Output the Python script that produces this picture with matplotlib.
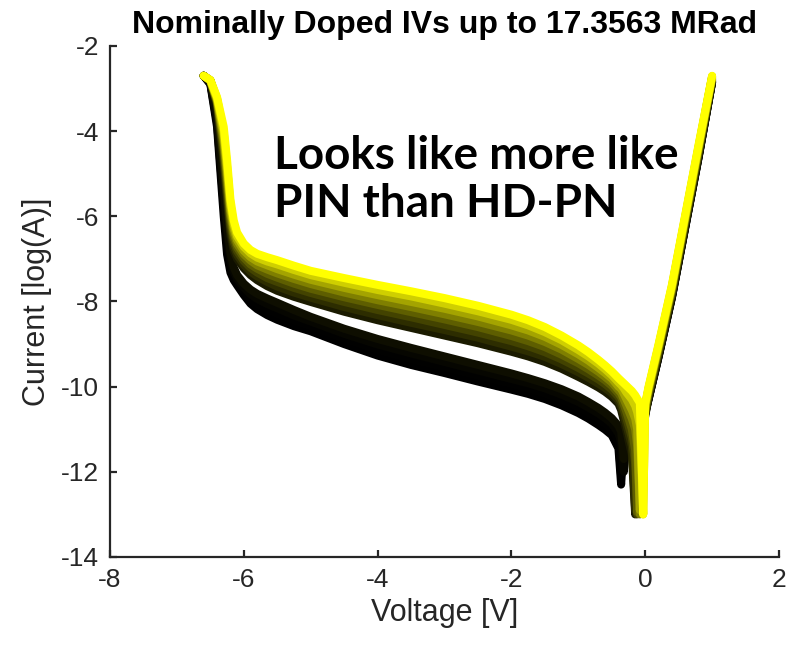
import matplotlib
matplotlib.use("Agg")
import matplotlib.pyplot as plt
from matplotlib.colors import LinearSegmentedColormap
import numpy as np

plt.rcParams["font.family"] = ["Liberation Sans", "DejaVu Sans"]
plt.rcParams["axes.unicode_minus"] = False

# Bias points shared by every sweep (V)
voltage = [
    -6.6, -6.5, -6.4, -6.3, -6.25, -6.2, -6.15, -6.1, -6.0, -5.9, -5.8, -5.65,
    -5.5, -5.25, -5.0, -4.5, -4.0, -3.5, -3.0, -2.5, -2.0, -1.75, -1.5, -1.25,
    -1.0, -0.85, -0.7, -0.6, -0.5, -0.4, -0.36, -0.32, -0.28, -0.2, -0.15,
    -0.12, -0.08, -0.03, 0.0, 0.05, 0.2, 0.4, 0.6, 0.8, 1.0,
]

# log10(|I|) per bias point, one column per dose step (lowest dose first)
log_current = [
    [-2.70, -2.70, -2.70, -2.70, -2.70, -2.70, -2.70, -2.70, -2.70, -2.70, -2.70, -2.70],
    [-2.90, -2.88, -2.87, -2.85, -2.82, -2.82, -2.82, -2.81, -2.81, -2.81, -2.80, -2.80],
    [-3.90, -3.80, -3.70, -3.60, -3.40, -3.37, -3.34, -3.31, -3.29, -3.26, -3.23, -3.20],
    [-6.00, -5.77, -5.53, -5.30, -4.80, -4.67, -4.54, -4.41, -4.29, -4.16, -4.03, -3.90],
    [-6.90, -6.67, -6.43, -6.20, -5.70, -5.55, -5.41, -5.26, -5.12, -4.97, -4.83, -4.68],
    [-7.32, -7.16, -7.01, -6.85, -6.45, -6.33, -6.21, -6.09, -5.96, -5.84, -5.72, -5.60],
    [-7.50, -7.40, -7.30, -7.20, -6.82, -6.72, -6.61, -6.51, -6.41, -6.31, -6.20, -6.10],
    [-7.62, -7.54, -7.46, -7.38, -7.00, -6.91, -6.82, -6.73, -6.65, -6.56, -6.47, -6.38],
    [-7.85, -7.76, -7.67, -7.58, -7.22, -7.14, -7.05, -6.97, -6.89, -6.81, -6.72, -6.64],
    [-8.05, -7.94, -7.83, -7.72, -7.38, -7.30, -7.21, -7.13, -7.04, -6.96, -6.87, -6.79],
    [-8.18, -8.06, -7.94, -7.82, -7.50, -7.41, -7.32, -7.23, -7.15, -7.06, -6.97, -6.88],
    [-8.32, -8.19, -8.06, -7.93, -7.64, -7.54, -7.45, -7.35, -7.25, -7.15, -7.06, -6.96],
    [-8.43, -8.30, -8.16, -8.03, -7.75, -7.65, -7.54, -7.44, -7.34, -7.24, -7.13, -7.03],
    [-8.58, -8.45, -8.33, -8.20, -7.89, -7.79, -7.68, -7.58, -7.47, -7.37, -7.26, -7.16],
    [-8.70, -8.59, -8.47, -8.36, -8.01, -7.91, -7.80, -7.70, -7.59, -7.49, -7.38, -7.28],
    [-9.00, -8.88, -8.76, -8.64, -8.24, -8.13, -8.01, -7.90, -7.79, -7.68, -7.56, -7.45],
    [-9.27, -9.14, -9.01, -8.88, -8.44, -8.32, -8.20, -8.08, -7.97, -7.85, -7.73, -7.61],
    [-9.49, -9.36, -9.22, -9.09, -8.62, -8.50, -8.37, -8.25, -8.13, -8.01, -7.88, -7.76],
    [-9.68, -9.55, -9.42, -9.29, -8.80, -8.67, -8.55, -8.42, -8.30, -8.17, -8.05, -7.92],
    [-9.88, -9.75, -9.62, -9.49, -8.98, -8.85, -8.73, -8.60, -8.48, -8.35, -8.23, -8.10],
    [-10.07, -9.94, -9.82, -9.69, -9.18, -9.06, -8.93, -8.81, -8.68, -8.56, -8.43, -8.31],
    [-10.17, -10.05, -9.92, -9.80, -9.29, -9.17, -9.05, -8.93, -8.80, -8.68, -8.56, -8.44],
    [-10.29, -10.17, -10.04, -9.92, -9.42, -9.30, -9.19, -9.07, -8.95, -8.83, -8.72, -8.60],
    [-10.44, -10.31, -10.19, -10.06, -9.58, -9.47, -9.36, -9.25, -9.13, -9.02, -8.91, -8.80],
    [-10.62, -10.49, -10.36, -10.23, -9.77, -9.66, -9.56, -9.45, -9.35, -9.24, -9.14, -9.03],
    [-10.75, -10.62, -10.49, -10.36, -9.89, -9.79, -9.69, -9.59, -9.49, -9.39, -9.29, -9.19],
    [-10.90, -10.77, -10.63, -10.50, -10.02, -9.93, -9.83, -9.74, -9.65, -9.56, -9.46, -9.37],
    [-11.01, -10.88, -10.74, -10.61, -10.12, -10.03, -9.94, -9.85, -9.77, -9.68, -9.59, -9.50],
    [-11.14, -11.01, -10.87, -10.74, -10.24, -10.15, -10.07, -9.98, -9.90, -9.81, -9.73, -9.64],
    [-11.45, -11.30, -11.10, -10.92, -10.40, -10.32, -10.24, -10.16, -10.08, -10.00, -9.90, -9.80],
    [-12.30, -12.10, -11.30, -11.05, -10.55, -10.45, -10.35, -10.25, -10.15, -10.05, -9.96, -9.86],
    [-11.30, -11.20, -12.00, -11.70, -10.80, -10.66, -10.54, -10.42, -10.30, -10.17, -10.04, -9.92],
    [-11.00, -10.95, -11.00, -10.95, -11.05, -10.90, -10.75, -10.60, -10.45, -10.30, -10.14, -9.98],
    [-10.90, -10.85, -10.85, -10.80, -11.60, -11.40, -11.20, -11.00, -10.75, -10.55, -10.30, -10.10],
    [-10.85, -10.80, -10.80, -10.75, -13.00, -12.90, -11.80, -11.50, -11.00, -10.75, -10.45, -10.20],
    [-10.80, -10.75, -10.75, -10.70, -11.40, -11.30, -13.00, -12.95, -11.40, -11.00, -10.60, -10.28],
    [-10.75, -10.70, -10.70, -10.65, -10.90, -10.85, -10.90, -10.85, -13.00, -12.90, -10.90, -10.38],
    [-10.70, -10.65, -10.65, -10.60, -10.75, -10.70, -10.70, -10.65, -10.60, -10.55, -13.00, -13.00],
    [-10.65, -10.60, -10.60, -10.55, -10.70, -10.65, -10.60, -10.55, -10.50, -10.45, -10.42, -10.40],
    [-10.30, -10.30, -10.28, -10.28, -10.25, -10.22, -10.18, -10.14, -10.10, -10.06, -10.03, -10.00],
    [-9.30, -9.30, -9.28, -9.27, -9.25, -9.21, -9.17, -9.13, -9.09, -9.06, -9.03, -9.00],
    [-7.90, -7.90, -7.88, -7.87, -7.85, -7.81, -7.77, -7.73, -7.69, -7.66, -7.63, -7.60],
    [-6.25, -6.25, -6.23, -6.22, -6.20, -6.16, -6.12, -6.08, -6.04, -6.01, -5.98, -5.95],
    [-4.60, -4.60, -4.58, -4.57, -4.55, -4.51, -4.47, -4.43, -4.39, -4.36, -4.33, -4.30],
    [-2.85, -2.85, -2.84, -2.83, -2.82, -2.80, -2.78, -2.76, -2.74, -2.72, -2.71, -2.70],
]

max_dose = 17.3563  # MRad
x_ticks = [-8, -6, -4, -2, 0, 2]
y_ticks = [-14, -12, -10, -8, -6, -4, -2]

AXIS_GREY = "#262626"


def main():
    v = np.array(voltage)
    iv = np.array(log_current)
    n_curves = iv.shape[1]

    # black -> yellow as dose increases
    cmap = LinearSegmentedColormap.from_list("dose", ["#000000", "#ffff00"])
    shade = np.linspace(0, 1, n_curves) ** 2.2

    fig = plt.figure(figsize=(7.92, 6.46), dpi=100)
    ax = fig.add_axes([0.1389, 0.1378, 0.8447, 0.791])

    for k in range(n_curves):
        ax.plot(v, iv[:, k], color=cmap(shade[k]), linewidth=5.8,
                solid_joinstyle="round", solid_capstyle="round", zorder=2 + k)

    ax.set_xlim(-8, 2)
    ax.set_ylim(-14, -2)
    ax.set_xticks(x_ticks)
    ax.set_yticks(y_ticks)
    ax.set_xticklabels([str(t) for t in x_ticks])
    ax.set_yticklabels([str(t) for t in y_ticks])

    for side in ("top", "right"):
        ax.spines[side].set_visible(False)
    for side in ("left", "bottom"):
        ax.spines[side].set_color(AXIS_GREY)
        ax.spines[side].set_linewidth(1.6)
    ax.tick_params(direction="in", length=5, width=1.6, colors=AXIS_GREY,
                   labelsize=19, pad=8)

    ax.set_xlabel("Voltage [V]", fontsize=22, color=AXIS_GREY, labelpad=4)
    ax.set_ylabel("Current [log(A)]", fontsize=22, color=AXIS_GREY, labelpad=6)
    ax.set_title(f"Nominally Doped IVs up to {max_dose:.4f} MRad",
                 fontsize=23, fontweight="bold", pad=9)

    ax.text(0.245, 0.825, "Looks like more like\nPIN than HD-PN",
            transform=ax.transAxes, ha="left", va="top",
            fontsize=33, fontweight="bold", family="Lato",
            linespacing=1.15, color="black", zorder=30)

    fig.savefig("out.png", dpi=100)
    plt.close(fig)


if __name__ == "__main__":
    main()
